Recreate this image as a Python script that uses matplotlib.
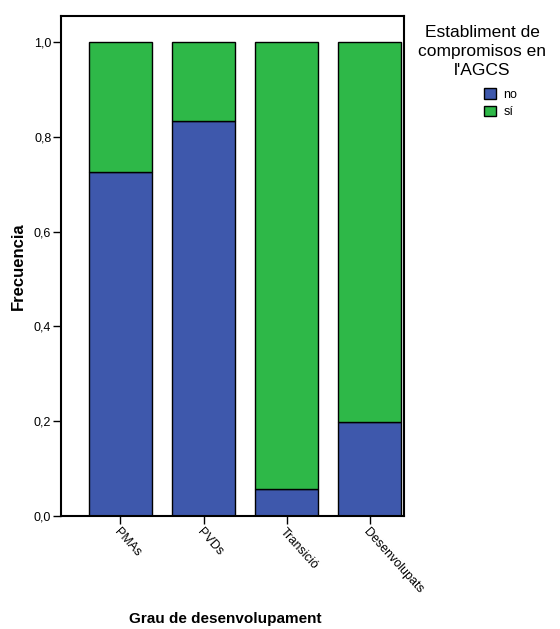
import numpy as np
import matplotlib.pyplot as plt
from matplotlib.patches import Patch

plt.rcParams["font.family"] = ["Liberation Sans", "DejaVu Sans"]

# Data
categories = ["PMAs", "PVDs", "Transició", "Desenvolupats"]
frac_no = [0.726, 0.833, 0.057, 0.199]
frac_si = [1 - v for v in frac_no]

BLUE = "#3e58ac"
GREEN = "#2eb848"

fig = plt.figure(figsize=(5.6, 6.29), dpi=100)
ax = fig.add_axes([0.109, 0.1797, 0.612, 0.795])

x = np.arange(len(categories))
width = 0.76
ax.bar(x, frac_no, width, color=BLUE, edgecolor="black", linewidth=1.0)
ax.bar(x, frac_si, width, bottom=frac_no, color=GREEN, edgecolor="black", linewidth=1.0)

ax.set_xlim(-0.715, 3.41)
ax.set_ylim(0, 1.055)
ax.set_yticks([0, 0.2, 0.4, 0.6, 0.8, 1.0])
ax.set_yticklabels(["0,0", "0,2", "0,4", "0,6", "0,8", "1,0"], fontsize=9)
ax.set_xticks(x)
ax.set_xticklabels(categories, rotation=-48, ha="left", va="top",
                   rotation_mode="anchor", fontsize=9)
ax.tick_params(axis="both", direction="out", length=6, width=1, color="black",
               pad=1)

for s in ax.spines.values():
    s.set_linewidth(1.5)

ax.set_ylabel("Frecuencia", fontsize=12, fontweight="bold", labelpad=6)
fig.text(0.403, 0.005, "Grau de desenvolupament", fontsize=11,
         fontweight="bold", ha="center", va="bottom")

# legend title drawn as text, entries shifted right like the original
fig.text(482 / 560, 1 - 25 / 629, "Establiment de\ncompromisos en\nl'AGCS",
         fontsize=12.5, ha="center", va="top", multialignment="center",
         linespacing=1.32)

handles = [Patch(facecolor=BLUE, edgecolor="black", label="no"),
           Patch(facecolor=GREEN, edgecolor="black", label="sí")]
fig.legend(handles=handles, loc="upper left", bbox_to_anchor=(484 / 560, 1 - 88 / 629),
           frameon=False, fontsize=9, handlelength=0.95, handleheight=0.95,
           handletextpad=0.6, labelspacing=0.4, borderpad=0, borderaxespad=0)

fig.savefig("out.png", dpi=100)
